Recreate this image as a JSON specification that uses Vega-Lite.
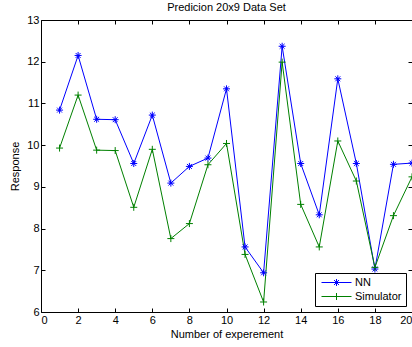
{
  "$schema": "https://vega.github.io/schema/vega-lite/v6.json",
  "width": 371,
  "height": 292,
  "autosize": {"type": "none"},
  "padding": {"left": 41, "top": 20, "right": 0, "bottom": 35},
  "background": "white",
  "title": {"text": "Predicion 20x9 Data Set", "fontSize": 11, "font": "Liberation Sans", "fontWeight": "normal", "color": "#000000", "offset": 1, "anchor": "middle"},
  "data": {"values": [
    {"x": 1, "series": "NN", "y": 10.84}, {"x": 2, "series": "NN", "y": 12.15}, {"x": 3, "series": "NN", "y": 10.62}, {"x": 4, "series": "NN", "y": 10.61}, {"x": 5, "series": "NN", "y": 9.56},
    {"x": 6, "series": "NN", "y": 10.72}, {"x": 7, "series": "NN", "y": 9.09}, {"x": 8, "series": "NN", "y": 9.49}, {"x": 9, "series": "NN", "y": 9.69}, {"x": 10, "series": "NN", "y": 11.35},
    {"x": 11, "series": "NN", "y": 7.56}, {"x": 12, "series": "NN", "y": 6.94}, {"x": 13, "series": "NN", "y": 12.37}, {"x": 14, "series": "NN", "y": 9.56}, {"x": 15, "series": "NN", "y": 8.33},
    {"x": 16, "series": "NN", "y": 11.59}, {"x": 17, "series": "NN", "y": 9.56}, {"x": 18, "series": "NN", "y": 7.03}, {"x": 19, "series": "NN", "y": 9.54}, {"x": 20, "series": "NN", "y": 9.57},
    {"x": 1, "series": "Simulator", "y": 9.93}, {"x": 2, "series": "Simulator", "y": 11.2}, {"x": 3, "series": "Simulator", "y": 9.88}, {"x": 4, "series": "Simulator", "y": 9.87}, {"x": 5, "series": "Simulator", "y": 8.51},
    {"x": 6, "series": "Simulator", "y": 9.9}, {"x": 7, "series": "Simulator", "y": 7.76}, {"x": 8, "series": "Simulator", "y": 8.12}, {"x": 9, "series": "Simulator", "y": 9.53}, {"x": 10, "series": "Simulator", "y": 10.04},
    {"x": 11, "series": "Simulator", "y": 7.38}, {"x": 12, "series": "Simulator", "y": 6.24}, {"x": 13, "series": "Simulator", "y": 11.99}, {"x": 14, "series": "Simulator", "y": 8.58}, {"x": 15, "series": "Simulator", "y": 7.56},
    {"x": 16, "series": "Simulator", "y": 10.1}, {"x": 17, "series": "Simulator", "y": 9.14}, {"x": 18, "series": "Simulator", "y": 7.07}, {"x": 19, "series": "Simulator", "y": 8.31}, {"x": 20, "series": "Simulator", "y": 9.24}
  ]},
  "layer": [
    {
      "mark": {"type": "line", "strokeWidth": 1, "clip": true},
      "encoding": {
        "x": {"field": "x", "type": "quantitative", "scale": {"domain": [0, 20], "nice": false},
              "axis": {"orient": "bottom", "values": [0,2,4,6,8,10,12,14,16,18,20], "title": "Number of experement", "titlePadding": 3}},
        "y": {"field": "y", "type": "quantitative", "scale": {"domain": [6, 13], "nice": false, "zero": false},
              "axis": {"orient": "left", "values": [6,7,8,9,10,11,12,13], "title": "Response", "titlePadding": 6}},
        "color": {"field": "series", "type": "nominal", "scale": {"domain": ["NN", "Simulator"], "range": ["#0000ff", "#008000"]},
                  "legend": {
                    "title": null, "orient": "bottom-right", "offset": 6, "padding": 4,
                    "strokeColor": "#000000", "fillColor": "#ffffff", "cornerRadius": 0,
                    "labelFont": "Liberation Sans", "labelFontSize": 11, "labelColor": "#000000", "labelOffset": 25,
                    "symbolSize": 100, "rowPadding": 2,
                    "encode": {"symbols": {"update": {
                      "shape": {"signal": "datum.value === 'NN' ? 'M-0.6,0L5.4,0M2.4,-0.7L2.4,0.7M1.9,-0.5L2.9,0.5M1.9,0.5L2.9,-0.5M2,0L2.8,0' : 'M-0.6,0L5.4,0M2.4,-0.7L2.4,0.7'"},
                      "size": {"value": 100},
                      "strokeWidth": {"value": 1},
                      "fill": {"value": "transparent"}
                    }}}
                  }},
        "detail": {"field": "series"}
      }
    },
    {
      "transform": [{"filter": "datum.series === 'NN'"}],
      "mark": {"type": "point", "filled": false, "size": 49, "strokeWidth": 1, "opacity": 1, "clip": true, "color": "#0000ff",
               "shape": "M-1,0L1,0M0,-1L0,1M-0.7,-0.7L0.7,0.7M-0.7,0.7L0.7,-0.7M-0.4,0L0.4,0"},
      "encoding": {
        "x": {"field": "x", "type": "quantitative", "scale": {"domain": [0, 20], "nice": false},
              "axis": {"orient": "top", "values": [0,2,4,6,8,10,12,14,16,18,20], "labels": false, "title": null}},
        "y": {"field": "y", "type": "quantitative", "scale": {"domain": [6, 13], "nice": false, "zero": false},
              "axis": {"orient": "right", "values": [6,7,8,9,10,11,12,13], "labels": false, "title": null}}
      }
    },
    {
      "transform": [{"filter": "datum.series === 'Simulator'"}],
      "mark": {"type": "point", "filled": false, "size": 49, "strokeWidth": 1, "opacity": 1, "clip": true, "color": "#008000",
               "shape": "M-1,0L1,0M0,-1L0,1"},
      "encoding": {
        "x": {"field": "x", "type": "quantitative", "axis": null},
        "y": {"field": "y", "type": "quantitative", "axis": null}
      }
    }
  ],
  "resolve": {"axis": {"x": "independent", "y": "independent"}},
  "config": {
    "font": "Liberation Sans",
    "view": {"stroke": "#000000", "strokeWidth": 1},
    "axis": {
      "domain": false, "grid": false, "tickSize": -4, "tickColor": "#000000", "tickWidth": 1,
      "labelFont": "Liberation Sans", "labelFontSize": 11, "labelColor": "#000000", "labelPadding": 6,
      "titleFont": "Liberation Sans", "titleFontSize": 11, "titleFontWeight": "normal", "titleColor": "#000000"
    }
  }
}
